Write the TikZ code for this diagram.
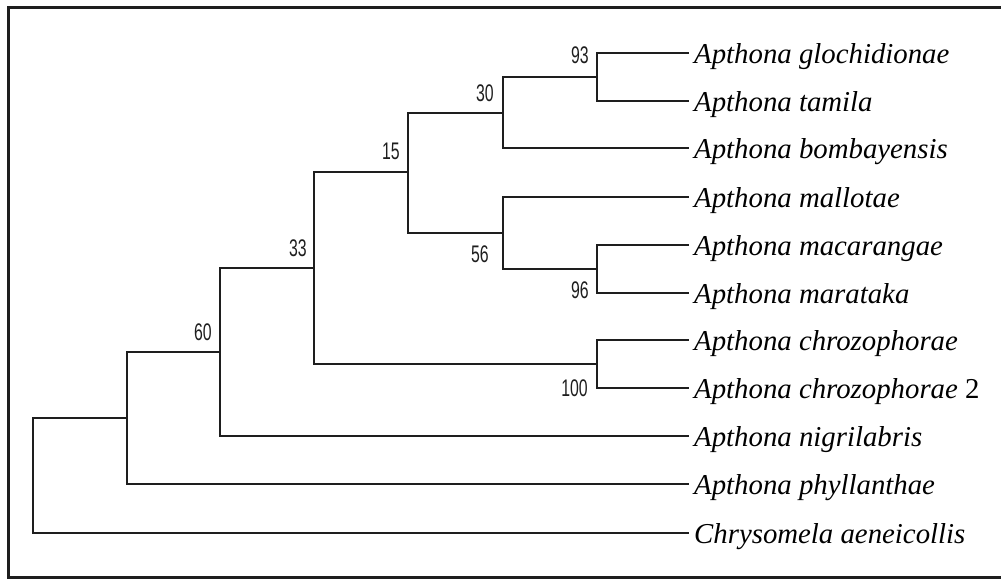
\documentclass[tikz,border=0pt]{standalone}
\usepackage{fontspec}
\setmainfont{Liberation Serif}
\newfontfamily\bsfont{Liberation Sans}
\definecolor{treeline}{HTML}{1E1E1E}
\tikzset{
  branch/.style={draw=treeline, line width=2pt, line join=miter, line cap=rect},
  taxon/.style={anchor=base west, inner sep=0pt, font=\fontsize{28.8}{30}\selectfont\itshape, text=black},
  boot/.style={anchor=base east, inner sep=0pt, font=\fontsize{24}{25}\selectfont\bsfont, text=treeline},
  frame/.style={draw=treeline, line width=3pt, line cap=rect}
}
\newcommand{\bsv}[1]{\scalebox{0.66}[1]{#1}}
\begin{document}
\begin{tikzpicture}[x=1pt, y=-1pt]
\useasboundingbox (0,0) rectangle (1001,579);
\draw[frame] (1003,7) -- (8,7) -- (8,577) -- (1003,577);

% leaf tips
\coordinate (t1) at (688,53);
\coordinate (t2) at (688,101);
\coordinate (t3) at (688,148);
\coordinate (t4) at (688,197);
\coordinate (t5) at (688,245);
\coordinate (t6) at (688,293);
\coordinate (t7) at (688,340);
\coordinate (t8) at (688,388);
\coordinate (t9) at (688,436);
\coordinate (t10) at (688,484);
\coordinate (t11) at (688,533);

% taxon labels
\node[taxon] (l1) at ([xshift=6pt,yshift=-10.5pt]t1) {Apthona glochidionae};
\node[taxon] (l2) at ([xshift=6pt,yshift=-10.5pt]t2) {Apthona tamila};
\node[taxon] (l3) at ([xshift=6pt,yshift=-10.5pt]t3) {Apthona bombayensis};
\node[taxon] (l4) at ([xshift=6pt,yshift=-10.5pt]t4) {Apthona mallotae};
\node[taxon] (l5) at ([xshift=6pt,yshift=-10.5pt]t5) {Apthona macarangae};
\node[taxon] (l6) at ([xshift=6pt,yshift=-10.5pt]t6) {Apthona marataka};
\node[taxon] (l7) at ([xshift=6pt,yshift=-10.5pt]t7) {Apthona chrozophorae};
\node[taxon] (l8) at ([xshift=6pt,yshift=-10.5pt]t8) {Apthona chrozophorae {\upshape 2}};
\node[taxon] (l9) at ([xshift=6pt,yshift=-10.5pt]t9) {Apthona nigrilabris};
\node[taxon] (l10) at ([xshift=6pt,yshift=-10.5pt]t10) {Apthona phyllanthae};
\node[taxon] (l11) at ([xshift=6pt,yshift=-10.5pt]t11) {Chrysomela aeneicollis};

% internal nodes
\coordinate (n93) at (597,77);
\coordinate (n96) at (597,269);
\coordinate (n100) at (597,364);
\coordinate (n30) at (503,113);
\coordinate (n56) at (503,233);
\coordinate (n15) at (408,172);
\coordinate (n33) at (314,268);
\coordinate (n60) at (220,352);
\coordinate (nph) at (127,418);
\coordinate (root) at (33,475.5);

% branches
\draw[branch] (t1) -| (n93) |- (t2);
\draw[branch] (n93) -| (n30) |- (t3);
\draw[branch] (t5) -| (n96) |- (t6);
\draw[branch] (t4) -| (n56) |- (n96);
\draw[branch] (n30) -| (n15) |- (n56);
\draw[branch] (t7) -| (n100) |- (t8);
\draw[branch] (n15) -| (n33) |- (n100);
\draw[branch] (n33) -| (n60) |- (t9);
\draw[branch] (n60) -| (nph) |- (t10);
\draw[branch] (nph) -| (root) |- (t11);

% bootstrap values
\node[boot] (b93) at (589,63) {\bsv{93}};
\node[boot] (b30) at (494,101) {\bsv{30}};
\node[boot] (b15) at (400,159) {\bsv{15}};
\node[boot] (b56) at (489,262) {\bsv{56}};
\node[boot] (b96) at (589,298) {\bsv{96}};
\node[boot] (b100) at (588,396) {\bsv{100}};
\node[boot] (b33) at (307,256) {\bsv{33}};
\node[boot] (b60) at (212,340) {\bsv{60}};
\end{tikzpicture}
\end{document}
